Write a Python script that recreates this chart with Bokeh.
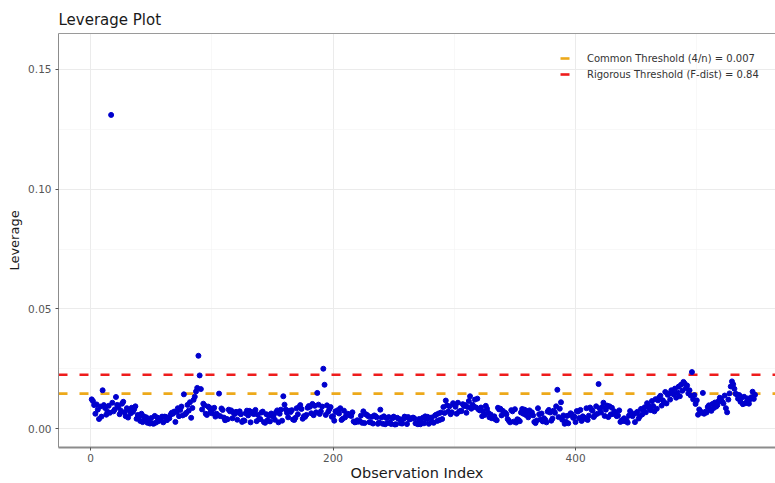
from bokeh.plotting import figure
from bokeh.models import (Range1d, FixedTicker, NumeralTickFormatter, LinearAxis,
                          Legend, LegendItem)
from bokeh.embed import file_html
from bokeh.resources import INLINE

# ---------------- data ----------------
lev_001_100 = [
    0.0122, 0.0115, 0.0098, 0.0062, 0.0101, 0.0079, 0.0040, 0.0092, 0.0050, 0.0160,
    0.0098, 0.0086, 0.0058, 0.0070, 0.0095, 0.0066, 0.1310, 0.0108, 0.0072, 0.0080,
    0.0132, 0.0099, 0.0090, 0.0060, 0.0075, 0.0104, 0.0112, 0.0068, 0.0052, 0.0085,
    0.0046, 0.0076, 0.0063, 0.0087, 0.0070, 0.0081, 0.0093, 0.0041, 0.0057, 0.0049,
    0.0032, 0.0062, 0.0027, 0.0051, 0.0038, 0.0047, 0.0024, 0.0030, 0.0021, 0.0044,
    0.0022, 0.0020, 0.0053, 0.0025, 0.0046, 0.0031, 0.0041, 0.0036, 0.0050, 0.0026,
    0.0050, 0.0049, 0.0035, 0.0045, 0.0043, 0.0058, 0.0066, 0.0062, 0.0071, 0.0028,
    0.0069, 0.0085, 0.0052, 0.0078, 0.0092, 0.0055, 0.0143, 0.0060, 0.0066, 0.0099,
    0.0075, 0.0110, 0.0045, 0.0086, 0.0120, 0.0133, 0.0155, 0.0170, 0.0304, 0.0222,
    0.0165, 0.0080, 0.0104, 0.0097, 0.0062, 0.0057, 0.0092, 0.0088, 0.0071, 0.0064,
]
lev_101_200 = [
    0.0081, 0.0087, 0.0050, 0.0062, 0.0056, 0.0146, 0.0052, 0.0084, 0.0078, 0.0046,
    0.0035, 0.0040, 0.0039, 0.0079, 0.0072, 0.0076, 0.0043, 0.0066, 0.0061, 0.0070,
    0.0037, 0.0067, 0.0072, 0.0060, 0.0028, 0.0034, 0.0033, 0.0064, 0.0075, 0.0055,
    0.0074, 0.0026, 0.0069, 0.0062, 0.0061, 0.0078, 0.0031, 0.0058, 0.0039, 0.0040,
    0.0067, 0.0071, 0.0027, 0.0024, 0.0060, 0.0035, 0.0055, 0.0030, 0.0063, 0.0052,
    0.0056, 0.0037, 0.0068, 0.0076, 0.0026, 0.0062, 0.0079, 0.0033, 0.0135, 0.0100,
    0.0080, 0.0066, 0.0047, 0.0074, 0.0069, 0.0077, 0.0038, 0.0036, 0.0045, 0.0085,
    0.0060, 0.0090, 0.0098, 0.0082, 0.0041, 0.0052, 0.0049, 0.0057, 0.0087, 0.0094,
    0.0091, 0.0064, 0.0103, 0.0056, 0.0095, 0.0068, 0.0149, 0.0100, 0.0061, 0.0072,
    0.0092, 0.0250, 0.0183, 0.0057, 0.0097, 0.0070, 0.0081, 0.0090, 0.0049, 0.0052,
]
lev_201_300 = [
    0.0033, 0.0072, 0.0069, 0.0077, 0.0063, 0.0085, 0.0036, 0.0041, 0.0075, 0.0047,
    0.0058, 0.0062, 0.0060, 0.0055, 0.0053, 0.0068, 0.0030, 0.0026, 0.0028, 0.0035,
    0.0029, 0.0032, 0.0054, 0.0024, 0.0072, 0.0023, 0.0060, 0.0057, 0.0052, 0.0027,
    0.0026, 0.0049, 0.0021, 0.0055, 0.0052, 0.0047, 0.0020, 0.0025, 0.0079, 0.0046,
    0.0020, 0.0051, 0.0018, 0.0044, 0.0023, 0.0048, 0.0024, 0.0019, 0.0043, 0.0050,
    0.0017, 0.0018, 0.0045, 0.0041, 0.0039, 0.0022, 0.0021, 0.0040, 0.0050, 0.0047,
    0.0019, 0.0048, 0.0038, 0.0041, 0.0042, 0.0046, 0.0043, 0.0022, 0.0023, 0.0018,
    0.0040, 0.0018, 0.0025, 0.0045, 0.0022, 0.0051, 0.0039, 0.0049, 0.0020, 0.0043,
    0.0046, 0.0028, 0.0024, 0.0054, 0.0058, 0.0032, 0.0063, 0.0036, 0.0067, 0.0040,
    0.0090, 0.0065, 0.0117, 0.0097, 0.0071, 0.0093, 0.0060, 0.0068, 0.0106, 0.0099,
]
lev_301_400 = [
    0.0091, 0.0062, 0.0108, 0.0071, 0.0074, 0.0073, 0.0102, 0.0094, 0.0098, 0.0066,
    0.0090, 0.0115, 0.0135, 0.0083, 0.0100, 0.0093, 0.0121, 0.0088, 0.0125, 0.0080,
    0.0076, 0.0088, 0.0052, 0.0071, 0.0057, 0.0095, 0.0083, 0.0066, 0.0047, 0.0059,
    0.0043, 0.0046, 0.0051, 0.0038, 0.0035, 0.0087, 0.0080, 0.0083, 0.0055, 0.0074,
    0.0063, 0.0066, 0.0060, 0.0040, 0.0033, 0.0026, 0.0077, 0.0072, 0.0029, 0.0081,
    0.0025, 0.0039, 0.0036, 0.0031, 0.0067, 0.0082, 0.0062, 0.0079, 0.0057, 0.0073,
    0.0047, 0.0076, 0.0065, 0.0068, 0.0055, 0.0028, 0.0023, 0.0034, 0.0085, 0.0060,
    0.0038, 0.0063, 0.0030, 0.0043, 0.0037, 0.0026, 0.0071, 0.0078, 0.0067, 0.0033,
    0.0042, 0.0075, 0.0066, 0.0093, 0.0162, 0.0048, 0.0083, 0.0110, 0.0037, 0.0055,
    0.0020, 0.0029, 0.0053, 0.0022, 0.0057, 0.0064, 0.0059, 0.0045, 0.0050, 0.0027,
]
lev_401_500 = [
    0.0073, 0.0071, 0.0044, 0.0078, 0.0032, 0.0051, 0.0046, 0.0041, 0.0085, 0.0036,
    0.0054, 0.0088, 0.0080, 0.0075, 0.0048, 0.0056, 0.0093, 0.0062, 0.0186, 0.0084,
    0.0067, 0.0090, 0.0108, 0.0053, 0.0079, 0.0096, 0.0048, 0.0093, 0.0059, 0.0087,
    0.0061, 0.0072, 0.0064, 0.0052, 0.0055, 0.0076, 0.0028, 0.0035, 0.0032, 0.0043,
    0.0031, 0.0035, 0.0025, 0.0054, 0.0073, 0.0059, 0.0052, 0.0062, 0.0027, 0.0065,
    0.0070, 0.0042, 0.0051, 0.0082, 0.0059, 0.0077, 0.0089, 0.0068, 0.0106, 0.0097,
    0.0085, 0.0077, 0.0115, 0.0094, 0.0072, 0.0123, 0.0083, 0.0118, 0.0130, 0.0137,
    0.0096, 0.0118, 0.0110, 0.0153, 0.0105, 0.0141, 0.0145, 0.0121, 0.0160, 0.0151,
    0.0142, 0.0167, 0.0129, 0.0150, 0.0175, 0.0135, 0.0183, 0.0158, 0.0195, 0.0188,
    0.0168, 0.0180, 0.0147, 0.0160, 0.0138, 0.0236, 0.0122, 0.0140, 0.0103, 0.0118,
]
lev_501_548 = [
    0.0058, 0.0080, 0.0072, 0.0066, 0.0149, 0.0062, 0.0070, 0.0067, 0.0090, 0.0097,
    0.0080, 0.0074, 0.0103, 0.0086, 0.0109, 0.0092, 0.0098, 0.0115, 0.0129, 0.0123,
    0.0112, 0.0105, 0.0138, 0.0085, 0.0068, 0.0121, 0.0147, 0.0176, 0.0197, 0.0185,
    0.0166, 0.0145, 0.0143, 0.0125, 0.0140, 0.0112, 0.0130, 0.0102, 0.0133, 0.0106,
    0.0109, 0.0126, 0.0104, 0.0123, 0.0131, 0.0154, 0.0124, 0.0141,
]
leverage = (lev_001_100 + lev_101_200 + lev_201_300 + lev_301_400
            + lev_401_500 + lev_501_548)
obs_index = list(range(1, len(leverage) + 1))

common_threshold = 0.0146
rigorous_threshold = 0.0225
common_label = "Common Threshold (4/n) = 0.007"
rigorous_label = "Rigorous Threshold (F-dist) = 0.84"

x_ticks = [0, 200, 400]
x_minor_ticks = [100, 300, 500]
y_ticks = [0.0, 0.05, 0.10, 0.15]
y_minor_ticks = [0.025, 0.075, 0.125]

# ---------------- layout / style ----------------
X_START, X_END = -26.4, 564.9
Y_START, Y_END = -0.0079, 0.165
FONT = "DejaVu Sans"
BLUE = "#0000CD"
ORANGE = "#EDA91A"
RED = "#EE1C1C"

p = figure(width=775, height=483, output_backend="svg", toolbar_location=None,
           x_range=Range1d(X_START, X_END), y_range=Range1d(Y_START, Y_END),
           min_border_left=58, min_border_right=0, min_border_top=33,
           min_border_bottom=35, title="Leverage Plot",
           background_fill_color="white", border_fill_color="white")
p.outline_line_color = None

p.title.text_font = FONT
p.title.text_font_size = "15px"
p.title.text_font_style = "normal"
p.title.text_color = "#1a1a1a"
p.title.standoff = 9
p.title.offset = 0

for ax, ticks, minor, lab in ((p.xaxis[0], x_ticks, x_minor_ticks, "Observation Index"),
                              (p.yaxis[0], y_ticks, y_minor_ticks, "Leverage")):
    ax.ticker = FixedTicker(ticks=ticks, minor_ticks=minor)
    ax.axis_label = lab
    ax.axis_label_text_font = FONT
    ax.axis_label_text_font_style = "normal"
    ax.axis_label_text_color = "#1a1a1a"
    ax.major_label_text_font = FONT
    ax.major_label_text_font_size = "10.5px"
    ax.major_label_text_color = "#555555"
    ax.major_tick_in = 0
    ax.major_tick_out = 3
    ax.major_tick_line_color = "#555555"
    ax.minor_tick_line_color = None
    ax.axis_line_color = "#8c8c8c"

p.xaxis[0].axis_label_text_font_size = "14.5px"
p.xaxis[0].axis_label_standoff = 0
p.xaxis[0].major_label_standoff = 2
p.xaxis[0].axis_line_width = 2
p.yaxis[0].axis_label_text_font_size = "13px"
p.yaxis[0].axis_label_standoff = 3
p.yaxis[0].major_label_standoff = 3
p.yaxis[0].axis_line_width = 1
p.yaxis[0].formatter = NumeralTickFormatter(format="0.00")

top_axis = LinearAxis(ticker=FixedTicker(ticks=[]), major_label_text_font_size="0px",
                      major_tick_out=0, major_tick_in=0, minor_tick_out=0,
                      minor_tick_in=0, major_label_standoff=0,
                      axis_line_color="#9a9a9a", axis_line_width=1)
p.add_layout(top_axis, "above")

for g in (p.xgrid[0], p.ygrid[0]):
    g.grid_line_color = "#EBEBEB"
    g.grid_line_width = 1
    g.minor_grid_line_color = "#F3F3F3"
    g.minor_grid_line_width = 0.6

r_common = p.line(x=[X_START, X_END], y=[common_threshold, common_threshold],
                  line_color=ORANGE, line_width=2.6, line_dash="9 12")
r_rig = p.line(x=[X_START, X_END], y=[rigorous_threshold, rigorous_threshold],
               line_color=RED, line_width=2.6, line_dash="9 12")

p.scatter(obs_index, leverage, size=5, fill_color=BLUE, line_color=BLUE)

legend = Legend(items=[LegendItem(label=common_label, renderers=[r_common]),
                       LegendItem(label=rigorous_label, renderers=[r_rig])],
                location=(502, 365), orientation="vertical",
                background_fill_alpha=0, border_line_color=None,
                padding=0, margin=0, spacing=0,
                glyph_width=11, glyph_height=16, label_height=16,
                label_standoff=16, label_text_font=FONT,
                label_text_font_size="10px", label_text_color="#333333")
p.add_layout(legend)

open("out.html", "w").write(file_html(p, INLINE))
